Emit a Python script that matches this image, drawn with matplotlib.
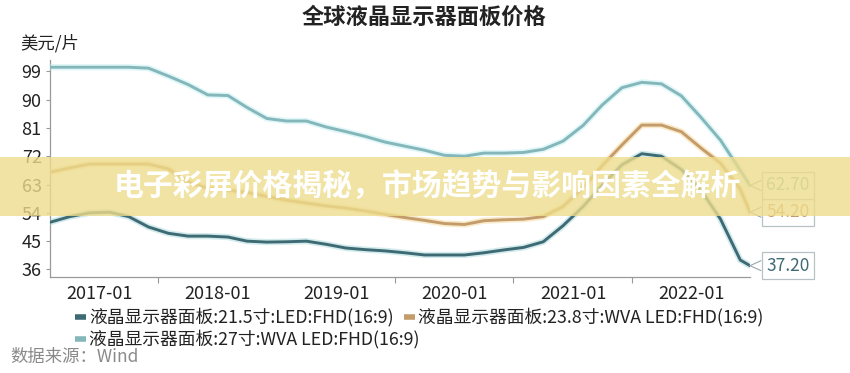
import matplotlib
matplotlib.use("Agg")
import matplotlib.pyplot as plt
import pandas as pd
from matplotlib import patheffects as pe
from matplotlib.lines import Line2D
from matplotlib.patches import Rectangle

plt.rcParams['font.family'] = ['Noto Sans CJK SC', 'DejaVu Sans']

# ---------------- data ----------------
dates = ["2016-08", "2016-10", "2016-12", "2017-02", "2017-04", "2017-06", "2017-08",
         "2017-10", "2017-12", "2018-02", "2018-04", "2018-06", "2018-08", "2018-10",
         "2018-12", "2019-02", "2019-04", "2019-06", "2019-08", "2019-10", "2019-12",
         "2020-02", "2020-04", "2020-06", "2020-08", "2020-10", "2020-12", "2021-02",
         "2021-04", "2021-06", "2021-08", "2021-10", "2021-12", "2022-02", "2022-04",
         "2022-06", "2022-07"]

s215 = [51.0, 52.8, 54.0, 54.2, 52.8, 49.5, 47.5, 46.6, 46.6, 46.3, 45.0, 44.7, 44.8,
        45.0, 44.0, 42.8, 42.3, 41.9, 41.3, 40.6, 40.6, 40.6, 41.3, 42.2, 43.0, 44.8,
        49.9, 56.0, 62.8, 69.3, 72.8, 72.0, 67.8, 61.0, 52.0, 39.0, 37.2]
s238 = [66.9, 68.3, 69.5, 69.5, 69.5, 69.5, 68.0, 63.8, 61.8, 61.2, 60.5, 59.2, 58.0,
        57.1, 56.2, 55.5, 54.6, 53.5, 52.5, 51.6, 50.6, 50.3, 51.5, 51.8, 52.0, 52.8,
        56.0, 62.0, 69.0, 75.6, 81.9, 81.9, 79.8, 74.5, 69.8, 61.5, 54.2]
s27 = [100.3, 100.3, 100.3, 100.3, 100.3, 100.0, 97.5, 94.8, 91.5, 91.3, 87.5, 84.0,
       83.2, 83.2, 81.3, 79.8, 78.3, 76.5, 75.2, 73.9, 72.3, 72.0, 73.0, 73.0, 73.2,
       74.2, 76.8, 81.8, 88.3, 93.8, 95.5, 95.0, 91.2, 84.2, 77.1, 67.5, 62.7]

series_names = ["液晶显示器面板:21.5寸:LED:FHD(16:9)",
                "液晶显示器面板:23.8寸:WVA LED:FHD(16:9)",
                "液晶显示器面板:27寸:WVA LED:FHD(16:9)"]
end_labels = ["37.20", "54.20", "62.70"]

yticks = [36, 45, 54, 63, 72, 81, 90, 99]
xtick_dates = ["2017-01", "2018-01", "2019-01", "2020-01", "2021-01", "2022-01"]
minor_tick_dates = ["2017-07", "2018-01", "2019-07", "2020-07", "2021-07", "2022-01"]

# ---------------- style ----------------
colors = ["#3E6A74", "#C49C6C", "#84B6BA"]
glows = ["#9FD3D8", "#F3D48A", "#B9EEF0"]
W, H = 850, 373


def fx(x):
    return x / W


def fy(y):
    return 1 - y / H


fig = plt.figure(figsize=(8.5, 3.73), dpi=100)
fig.patch.set_facecolor("white")
ax = fig.add_axes([fx(50), fy(277), 700 / W, 217 / H])

d = pd.to_datetime(dates)
all_series = [s215, s238, s27]
for vals, c, g in zip(all_series, colors, glows):
    ax.plot(d, vals, color=c, lw=2.1, solid_joinstyle="round", solid_capstyle="round",
            path_effects=[pe.Stroke(linewidth=4.5, foreground=g, alpha=0.45), pe.Normal()],
            zorder=3)

ax.set_xlim(pd.Timestamp("2016-08-01"), pd.Timestamp("2022-07-01"))
ax.set_ylim(33.6, 102.6)
ax.set_yticks(yticks)
ax.set_yticklabels([str(v) for v in yticks])
ax.set_xticks(pd.to_datetime(xtick_dates))
ax.set_xticklabels(xtick_dates)
ax.set_xticks(pd.to_datetime(minor_tick_dates), minor=True)
ax.tick_params(axis="x", which="major", length=0, pad=6, labelsize=13, labelcolor="#222222")
ax.tick_params(axis="x", which="minor", length=4, width=0.8, color="#999999")
ax.tick_params(axis="y", length=3, width=0.8, color="#999999", pad=3, labelsize=13,
               labelcolor="#222222")
for s in ["top", "right"]:
    ax.spines[s].set_visible(False)
for s in ["left", "bottom"]:
    ax.spines[s].set_color("#9a9a9a")
    ax.spines[s].set_linewidth(0.9)

# end callouts
for vals, c, lab in zip(all_series, colors, end_labels):
    end = (d[-1], vals[-1])
    ax.annotate(lab, xy=end, xytext=(16, 0), textcoords="offset pixels",
                ha="left", va="center", fontsize=12.5, color=c,
                bbox=dict(boxstyle="square,pad=0.25", facecolor="white",
                          edgecolor="#b8c2c6", linewidth=0.9),
                annotation_clip=False, zorder=5)
    for dy in (5, -5):
        ax.annotate("", xy=end, xytext=(11, dy), textcoords="offset pixels",
                    arrowprops=dict(arrowstyle="-", color="#9aa6aa", lw=0.8,
                                    shrinkA=0, shrinkB=0),
                    annotation_clip=False, zorder=4)

# title and unit
fig.text(fx(424), fy(17), "全球液晶显示器面板价格", fontsize=16, fontweight="bold",
         ha="center", va="center", color="#222222")
fig.text(fx(20), fy(43), "美元/片", fontsize=12.5, ha="left", va="center", color="#222222")

# legend (flow layout)
legend_pos = [(75, 317), (404, 317), (75, 339)]
for (lx, ly), c, name in zip(legend_pos, colors, series_names):
    fig.add_artist(Line2D([fx(lx), fx(lx + 11)], [fy(ly), fy(ly)], transform=fig.transFigure,
                          color=c, lw=4, solid_capstyle="butt"))
    fig.text(fx(lx + 14), fy(ly), name, fontsize=12.8, ha="left", va="center", color="#222222")

fig.text(fx(10), fy(357), "数据来源：Wind", fontsize=12.5, ha="left", va="center",
         color="#8a8a8a")

# overlay banner
fig.patches.append(Rectangle((0, fy(216)), 1, (216 - 157) / H, transform=fig.transFigure,
                             facecolor="#EEDC8C", alpha=0.8, edgecolor="none", zorder=10))
fig.text(fx(427), fy(187), "电子彩屏价格揭秘，市场趋势与影响因素全解析", fontsize=21.5,
         fontweight="bold", ha="center", va="center", color="white", zorder=11)

fig.savefig("out.png", dpi=100, facecolor="white")
